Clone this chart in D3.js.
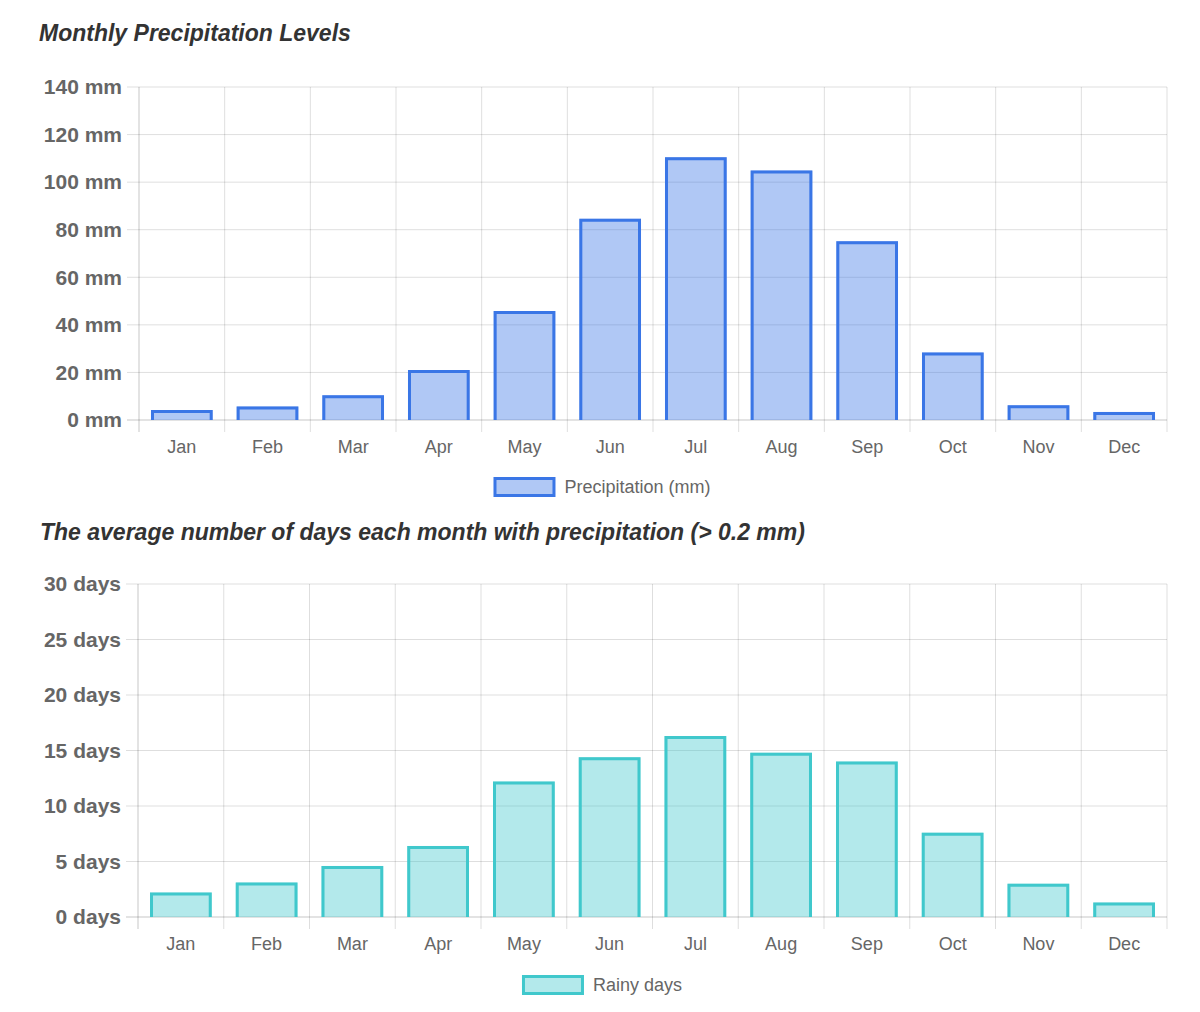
<!DOCTYPE html>
<html>
<head>
<meta charset="utf-8">
<script src="https://cdn.jsdelivr.net/npm/d3@7"></script>
<style>
  body { margin: 0; background: #fff; }
  svg { display: block; font-family: "Liberation Sans", Arial, Helvetica, sans-serif; }
</style>
</head>
<body>
<svg id="chart" width="1200" height="1012"></svg>
<script>
// data
var months = ["Jan","Feb","Mar","Apr","May","Jun","Jul","Aug","Sep","Oct","Nov","Dec"]
var precipitation = [4.2, 5.7, 10.4, 21, 45.8, 84.6, 110.5, 104.9, 75.2, 28.4, 6.2, 3.4]
var rainyDays = [2.2, 3.1, 4.6, 6.4, 12.2, 14.4, 16.3, 14.8, 14.0, 7.6, 3.0, 1.3]
var precipTicks = [0, 20, 40, 60, 80, 100, 120, 140]
var dayTicks = [0, 5, 10, 15, 20, 25, 30]

var svg = d3.select("#chart")

var drawChart = function(opt)
{
    var g = svg.append("g")

    // title
    g.append("text")
        .attr("x", opt.titleX)
        .attr("y", opt.titleY)
        .attr("fill", "#333")
        .style("font-size", "23px")
        .style("font-weight", "bold")
        .style("font-style", "italic")
        .text(opt.title)

    var xScale = d3.scaleBand()
                    .domain(months)
                    .range([opt.left, opt.right])
    var yScale = d3.scaleLinear()
                    .domain([0, d3.max(opt.ticks)])
                    .range([opt.bottom, opt.top])

    // horizontal grid, sticks out to the left as tick marks
    g.append("g").selectAll("line")
        .data(opt.ticks)
        .enter()
        .append("line")
        .attr("x1", opt.left - 12)
        .attr("x2", opt.right)
        .attr("y1", function(d){return yScale(d)})
        .attr("y2", function(d){return yScale(d)})
        .attr("stroke", function(d){return d == 0 ? "rgba(0,0,0,0.22)" : "rgba(0,0,0,0.13)"})
        .attr("stroke-width", 1)

    // vertical grid on the category edges, goes below the axis
    var edges = months.map(function(m){return xScale(m)}).concat([opt.right])
    g.append("g").selectAll("line")
        .data(edges)
        .enter()
        .append("line")
        .attr("x1", function(d){return d})
        .attr("x2", function(d){return d})
        .attr("y1", opt.top)
        .attr("y2", opt.bottom + 12)
        .attr("stroke", function(d,i){return i == 0 ? "rgba(0,0,0,0.22)" : "rgba(0,0,0,0.13)"})
        .attr("stroke-width", 1)

    // y axis labels
    var yAxis = d3.axisLeft(yScale)
                    .tickValues(opt.ticks)
                    .tickSize(0)
                    .tickPadding(0)
                    .tickFormat(function(d){return d + opt.unit})
    var ya = g.append("g")
        .attr("transform", "translate(" + (opt.left - 17) + ",0)")
        .call(yAxis)
    ya.select(".domain").remove()
    ya.selectAll("text")
        .attr("fill", "#666")
        .attr("dy", "0.32em")
        .style("font-size", "21px")
        .style("font-weight", "bold")
        .style("font-family", "'Liberation Sans', Arial, sans-serif")

    // x axis labels
    var xAxis = d3.axisBottom(xScale).tickSize(0).tickPadding(0)
    var xa = g.append("g")
        .attr("transform", "translate(0," + (opt.bottom + 20) + ")")
        .call(xAxis)
    xa.select(".domain").remove()
    xa.selectAll("text")
        .attr("fill", "#666")
        .attr("dy", "0.71em")
        .style("font-size", "18px")
        .style("font-family", "'Liberation Sans', Arial, sans-serif")

    // bars
    var bw = xScale.bandwidth() * 0.72
    var bars = g.append("g").selectAll("g")
        .data(opt.values)
        .enter()
        .append("g")
    bars.append("rect")
        .attr("x", function(d,i){return xScale(months[i]) + (xScale.bandwidth() - bw) / 2})
        .attr("y", function(d){return yScale(d)})
        .attr("width", bw)
        .attr("height", function(d){return opt.bottom - yScale(d)})
        .attr("fill", opt.fill)
    // border drawn inside the bar, no bottom edge
    bars.append("path")
        .attr("d", function(d,i){
            var x0 = xScale(months[i]) + (xScale.bandwidth() - bw) / 2 + 1.5
            var x1 = x0 + bw - 3
            var y0 = yScale(d) + 1.5
            return "M" + x0 + "," + opt.bottom + "V" + y0 + "H" + x1 + "V" + opt.bottom
        })
        .attr("fill", "none")
        .attr("stroke", opt.stroke)
        .attr("stroke-width", 3)

    // legend
    var lg = g.append("g")
    var lt = lg.append("text")
        .attr("y", opt.legendY)
        .attr("dy", "0.35em")
        .attr("fill", "#666")
        .style("font-size", "18px")
        .text(opt.label)
    var tw = lt.node().getComputedTextLength()
    var total = 62 + 9 + tw
    var lx = 602 - total / 2
    lg.append("rect")
        .attr("x", lx + 1.5)
        .attr("y", opt.legendY - 10 + 1.5)
        .attr("width", 59)
        .attr("height", 17)
        .attr("fill", opt.fill)
        .attr("stroke", opt.stroke)
        .attr("stroke-width", 3)
    lt.attr("x", lx + 71)
}

drawChart({
    title: "Monthly Precipitation Levels",
    titleX: 39, titleY: 41,
    values: precipitation, ticks: precipTicks, unit: " mm",
    left: 139, right: 1167, top: 87, bottom: 420,
    fill: "rgba(58,118,230,0.4)", stroke: "rgb(58,118,230)",
    label: "Precipitation (mm)", legendY: 487
})

drawChart({
    title: "The average number of days each month with precipitation (> 0.2 mm)",
    titleX: 40, titleY: 540,
    values: rainyDays, ticks: dayTicks, unit: " days",
    left: 138, right: 1167, top: 584, bottom: 917,
    fill: "rgba(64,200,204,0.4)", stroke: "rgb(64,200,204)",
    label: "Rainy days", legendY: 985
})
</script>
</body>
</html>
